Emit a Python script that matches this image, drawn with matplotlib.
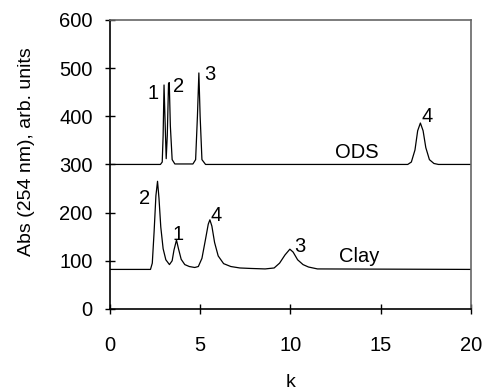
import matplotlib
matplotlib.use("Agg")
import matplotlib.pyplot as plt

plt.rcParams['font.family'] = ['Liberation Sans', 'DejaVu Sans']

# ODS column trace
ods_k = [0, 2.8, 2.9, 2.95, 3.0, 3.05, 3.12, 3.18, 3.25, 3.29, 3.35, 3.45, 3.6,
         4.6, 4.75, 4.85, 4.93, 5.0, 5.1, 5.3,
         16.5, 16.7, 16.9, 17.05, 17.2, 17.35, 17.5, 17.7, 17.95, 18.2, 20]
ods_abs = [300, 300, 305, 360, 465, 400, 312, 360, 468, 470, 380, 310, 301,
           301, 310, 400, 490, 400, 310, 300,
           300, 305, 330, 370, 386, 370, 335, 310, 302, 300, 300]

# clay column trace
clay_k = [0, 2.25, 2.35, 2.45, 2.55, 2.64, 2.72, 2.82, 2.95, 3.1, 3.3, 3.45, 3.55,
          3.69, 3.8, 3.95, 4.15, 4.4, 4.7, 4.9, 5.1, 5.3, 5.45, 5.54, 5.65, 5.8,
          6.0, 6.3, 6.7, 7.2, 7.8, 8.6, 9.1, 9.4, 9.7, 9.97, 10.15, 10.4, 10.7,
          11.0, 11.5, 20]
clay_abs = [82, 82, 95, 160, 235, 265, 230, 170, 125, 102, 92, 100, 122,
            143, 125, 103, 92, 88, 86, 88, 105, 145, 176, 185, 172, 138,
            110, 94, 88, 85, 84, 83, 85, 95, 112, 124, 118, 102, 92,
            87, 83, 82]

# peak labels: text, k, abs
ods_labels = [("1", 2.4, 448), ("2", 3.8, 461), ("3", 5.54, 486), ("4", 17.55, 400)]
clay_labels = [("2", 1.94, 230), ("1", 3.8, 154), ("4", 5.9, 195), ("3", 10.5, 129)]
trace_names = [("ODS", 13.7, 324), ("Clay", 13.8, 108)]

fig = plt.figure(figsize=(4.84, 3.92), dpi=100)
ax = fig.add_axes([0.227, 0.212, 0.746, 0.737])

ax.plot(ods_k, ods_abs, color="black", lw=0.9)
ax.plot(clay_k, clay_abs, color="black", lw=0.9)

for txt, x, y in ods_labels + clay_labels + trace_names:
    ax.text(x, y, txt, fontsize=14.5, ha="center", va="center")

ax.set_xlim(0, 20)
ax.set_ylim(0, 600)
ax.set_xticks([0, 5, 10, 15, 20])
ax.set_yticks([0, 100, 200, 300, 400, 500, 600])
ax.tick_params(direction="inout", length=7, width=1, labelsize=14.5)
ax.tick_params(axis="x", pad=16)
ax.tick_params(axis="y", pad=9)
ax.set_xlabel("k", fontsize=14)
ax.set_ylabel("Abs (254 nm), arb. units", fontsize=14)
ax.xaxis.set_label_coords(0.5, -0.225)
ax.yaxis.set_label_coords(-0.208, 0.543)

for s in ["left", "bottom"]:
    ax.spines[s].set_linewidth(1.2)
for s in ["top", "right"]:
    ax.spines[s].set_color("#666666")
    ax.spines[s].set_linewidth(1.2)

fig.savefig("out.png", dpi=100)
